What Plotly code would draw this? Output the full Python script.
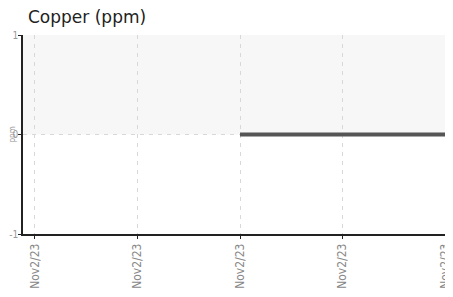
import plotly.graph_objects as go

tick_labels = ["Nov2/23", "Nov2/23", "Nov2/23", "Nov2/23", "Nov2/23"]
x_index = [0, 1, 2, 3, 4]
copper_ppm = [None, None, 0, 0, 0]
y_ticks = [-1, 0, 1]
y_tick_text = ["-1", "0", "1"]

fig = go.Figure()
fig.add_shape(type="rect", xref="paper", yref="y", x0=0, x1=1, y0=0, y1=1,
              fillcolor="#f7f7f7", line_width=0, layer="below")
fig.add_trace(go.Scatter(x=x_index, y=copper_ppm, mode="lines",
                         line=dict(color="#555555", width=4), connectgaps=False,
                         hoverinfo="skip"))
fig.update_layout(
    width=453, height=297,
    margin=dict(l=15, r=0, t=27, b=71, autoexpand=False),
    paper_bgcolor="white", plot_bgcolor="white",
    showlegend=False,
    title=dict(text="Copper (ppm)", x=20 / 453, xref="container", xanchor="left",
               y=1 - 9 / 297, yref="container", yanchor="middle",
               font=dict(family="DejaVu Sans", size=17, color="#222222")),
    font=dict(family="DejaVu Sans Condensed", color="#888888"),
    annotations=[dict(text="ppm", xref="paper", yref="y", x=-11 / 438, y=0,
                      xanchor="center", yanchor="middle", textangle=-90, showarrow=False,
                      font=dict(size=8, color="#999999", family="DejaVu Sans Condensed"))],
)
fig.update_xaxes(
    tickvals=x_index, ticktext=tick_labels, tickangle=-90, automargin=False,
    range=[-0.117, 4.156], showline=True, linecolor="#222222", linewidth=1.5,
    ticks="outside", ticklen=3, tickcolor="#222222",
    showgrid=True, gridcolor="#d8d8d8", griddash="4px,5px", gridwidth=1,
    zeroline=False, tickfont=dict(size=12, color="#888888", family="DejaVu Sans Condensed"),
)
fig.update_yaxes(
    range=[-1, 1], tickvals=y_ticks, ticktext=y_tick_text, showline=True,
    linecolor="#222222", linewidth=1.5, ticklabelstandoff=-2,
    ticks="outside", ticklen=3, tickcolor="#222222", automargin=False,
    showgrid=True, gridcolor="#d8d8d8", griddash="4px,5px", gridwidth=1,
    zeroline=False, tickfont=dict(size=10, color="#999999", family="DejaVu Sans Condensed"),
)
fig.write_html("out.html")
